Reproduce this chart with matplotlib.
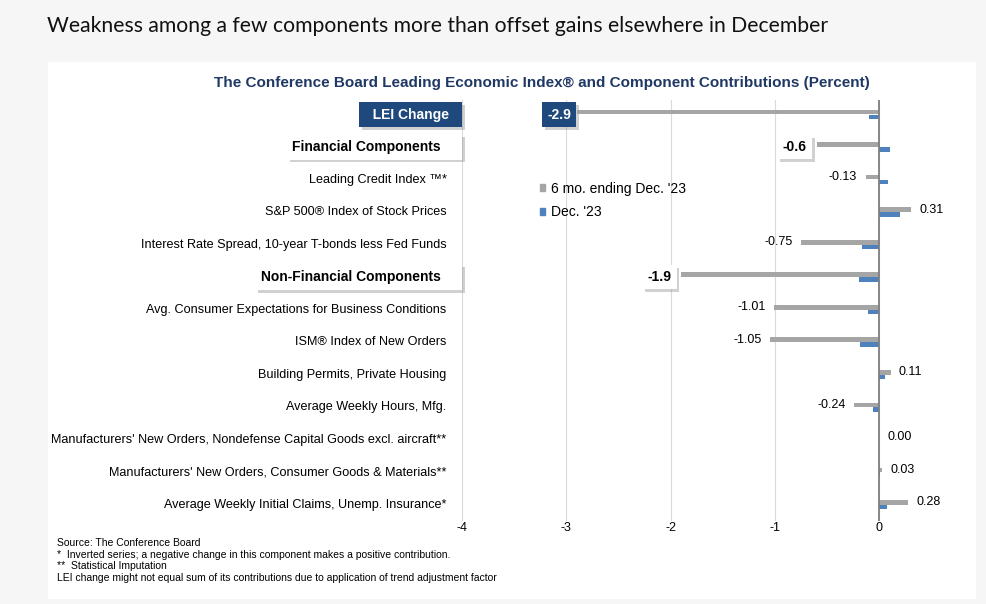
import matplotlib
matplotlib.use('Agg')
import matplotlib.pyplot as plt
import numpy as np
from matplotlib import patheffects as pe
from matplotlib.patches import Rectangle, Patch

plt.rcParams['font.family'] = ['Liberation Sans', 'DejaVu Sans']

categories = [
    'LEI Change',
    'Financial Components',
    'Leading Credit Index \u2122*',
    'S&P 500\u00ae Index of Stock Prices',
    'Interest Rate Spread, 10-year T-bonds less Fed Funds',
    'Non-Financial Components',
    'Avg. Consumer Expectations for Business Conditions',
    'ISM\u00ae Index of New Orders',
    'Building Permits, Private Housing',
    'Average Weekly Hours, Mfg.',
    "Manufacturers' New Orders, Nondefense Capital Goods excl. aircraft**",
    "Manufacturers' New Orders, Consumer Goods & Materials**",
    'Average Weekly Initial Claims, Unemp. Insurance*',
]
row_kind = ['lei', 'group', 'item', 'item', 'item', 'group',
            'item', 'item', 'item', 'item', 'item', 'item', 'item']
six_month = [-2.9, -0.6, -0.13, 0.31, -0.75, -1.9, -1.01, -1.05, 0.11, -0.24, 0.00, 0.03, 0.28]
december = [-0.1, 0.1, 0.09, 0.2, -0.16, -0.19, -0.11, -0.18, 0.06, -0.06, 0.0, 0.01, 0.08]
series_names = ["6 mo. ending Dec. '23", "Dec. '23"]
x_ticks = [-4, -3, -2, -1, 0]

GRAY = '#a5a5a5'
BLUE = '#4f81bd'
NAVY = '#1f497d'
TITLE_C = '#1f3864'

W, H = 987, 604
fig = plt.figure(figsize=(W / 100, H / 100), dpi=100, facecolor='#f6f6f6')
fig.patches.append(Rectangle((48 / W, 1 - 598 / H), (975 - 48) / W, (598 - 62) / H,
                             transform=fig.transFigure, color='white', zorder=-10))

fig.text(47 / W, 1 - 26 / H, 'Weakness among a few components more than offset gains elsewhere in December',
         fontsize=15.2, family='Lato', va='center', ha='left', color='#111111')

fig.text(542 / W, 1 - 83 / H,
         'The Conference Board Leading Economic Index\u00ae and Component Contributions (Percent)',
         fontsize=11, fontweight='bold', color=TITLE_C, ha='center', va='center')

ax = fig.add_axes([462 / W, 1 - 521 / H, (926 - 462) / W, (521 - 100) / H])
ax.patch.set_visible(False)

y = np.arange(len(categories))
off = 0.075
ax.barh(y - off, six_month, height=0.14, color=GRAY, zorder=3)
ax.barh(y + off, december, height=0.14, color=BLUE, zorder=3)

ax.set_xlim(-4, 0.45)
ax.set_ylim(len(categories) - 0.5, -0.45)
ax.set_xticks(x_ticks)
ax.set_xticklabels([str(t) for t in x_ticks])
ax.set_yticks([])
ax.grid(axis='x', color='#d9d9d9', lw=0.8, zorder=0)
ax.axvline(0, color='#7f7f7f', lw=1.3, zorder=4)
for s in ax.spines.values():
    s.set_visible(False)
ax.tick_params(axis='x', length=0, labelsize=9, pad=1)

shadow = [pe.SimplePatchShadow(offset=(2, -2), shadow_rgbFace='#9a9a9a', alpha=0.45), pe.Normal()]

for i, (cat, kind, v) in enumerate(zip(categories, row_kind, six_month)):
    if kind == 'item':
        ax.annotate(cat, xy=(0, i), xycoords=('axes fraction', 'data'), xytext=(-11, 0),
                    textcoords='offset points', ha='right', va='center', fontsize=9.1)
        if v < 0:
            ax.annotate(f'{v:.2f}', xy=(v, i - off), xytext=(-6, 0), textcoords='offset points',
                        ha='right', va='center', fontsize=9)
        else:
            ax.annotate(f'{v:.2f}', xy=(v, i - off), xytext=(6, 0), textcoords='offset points',
                        ha='left', va='center', fontsize=9)
    else:
        fc = NAVY if kind == 'lei' else 'white'
        tc = 'white' if kind == 'lei' else 'black'
        label = f'  {cat}  ' if kind == 'lei' else f'{cat}    '
        t = ax.annotate(label, xy=(0, i), xycoords=('axes fraction', 'data'), xytext=(-4, 0),
                        textcoords='offset points', ha='right', va='center', fontsize=10,
                        fontweight='bold', color=tc,
                        bbox=dict(boxstyle='square,pad=0.4', fc=fc, ec='none'))
        t.get_bbox_patch().set_path_effects(shadow)
        dx = -4 if kind == 'lei' else -7
        t2 = ax.annotate(f'{v:.1f}', xy=(v, i), xytext=(dx, 0), textcoords='offset points',
                         ha='right', va='center', fontsize=10, fontweight='bold', color=tc,
                         bbox=dict(boxstyle='square,pad=0.38', fc=fc, ec='none'), zorder=5)
        t2.get_bbox_patch().set_path_effects(shadow)

handles = [Patch(color=GRAY), Patch(color=BLUE)]
ax.legend(handles, series_names, loc='upper left', bbox_to_anchor=(533 / W, 1 - 175 / H),
          bbox_transform=fig.transFigure, frameon=False, fontsize=10,
          handlelength=0.4, handleheight=0.4, handletextpad=0.4, labelspacing=0.68,
          borderpad=0)

notes = [
    'Source: The Conference Board',
    '*  Inverted series; a negative change in this component makes a positive contribution.',
    '**  Statistical Imputation',
    'LEI change might not equal sum of its contributions due to application of trend adjustment factor',
]
for k, line in enumerate(notes):
    fig.text(57 / W, 1 - (543 + 11.7 * k) / H, line, fontsize=7.5, ha='left', va='center')

fig.savefig('out.png', dpi=100, facecolor=fig.get_facecolor())
